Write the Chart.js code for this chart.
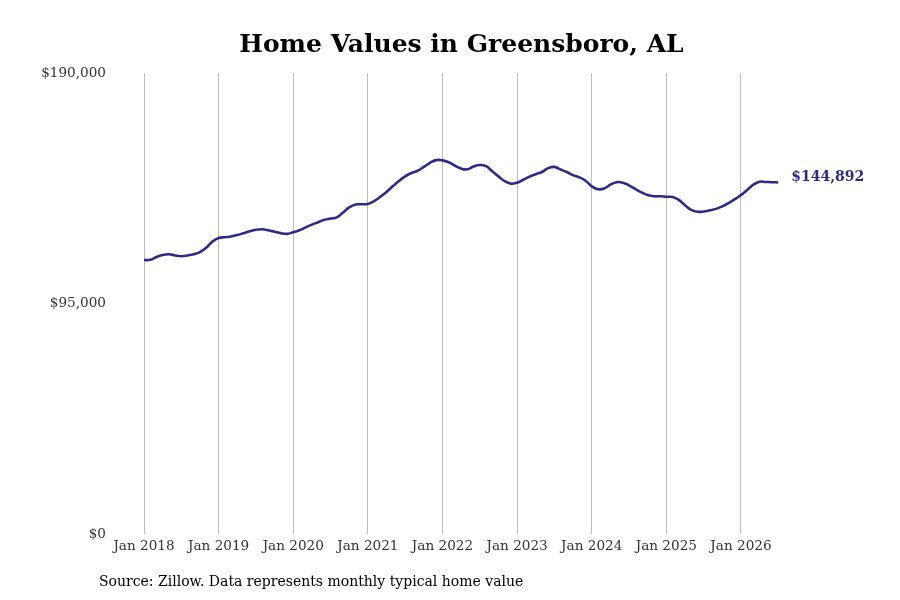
<!DOCTYPE html>
<html>
<head>
<meta charset="utf-8">
<script src="https://cdn.jsdelivr.net/npm/chart.js@4.4.1/dist/chart.umd.min.js"></script>
<style>
  html, body { margin: 0; padding: 0; background: #fff; }
  #wrap { width: 900px; height: 600px; }
</style>
</head>
<body>
<div id="wrap"><canvas id="c" width="900" height="600"></canvas></div>
<script>
// Monthly typical home value, Jan 2018 .. Jul 2026
const homeValues = [
  112900, 113000, 114200, 115000, 115300, 114800, 114500, 114800, 115300, 116200, 118000, 120500,
  122000, 122300, 122600, 123200, 124000, 124800, 125400, 125600, 125200, 124600, 124000, 123700,
  124400, 125200, 126400, 127500, 128500, 129500, 130000, 130500, 132500, 134600, 135800, 135900,
  136000, 137200, 139000, 141000, 143300, 145500, 147400, 148800, 149700, 151300, 153000, 154100,
  154000, 153200, 151800, 150600, 150300, 151500, 152100, 151600, 149500, 147400, 145400, 144400,
  144800, 146000, 147300, 148300, 149200, 150800, 151300, 150200, 149200, 147900, 147000, 145600,
  143300, 142100, 142400, 144000, 145000, 144800, 143700, 142200, 140800, 139700, 139200, 139200,
  139000, 138900, 137700, 135500, 133600, 132800, 132900, 133400, 134000, 135000, 136400, 138000,
  139700, 141800, 144000, 145200, 145100, 145000, 144892
];
const xTickPositions = [0, 12, 24, 36, 48, 60, 72, 84, 96];
const xTickLabels = ['Jan 2018', 'Jan 2019', 'Jan 2020', 'Jan 2021', 'Jan 2022', 'Jan 2023', 'Jan 2024', 'Jan 2025', 'Jan 2026'];
const yTickValues = [0, 95000, 190000];
const yTickLabels = ['$0', '$95,000', '$190,000'];
const titleText = 'Home Values in Greensboro, AL';
const sourceText = 'Source: Zillow. Data represents monthly typical home value';
const endLabel = '$144,892';

const LINE_COLOR = '#2e2b87';
const SERIF = '"DejaVu Serif", serif';

const overlay = {
  id: 'overlay',
  afterDraw(chart) {
    const ctx = chart.ctx;
    const xs = chart.scales.x, ys = chart.scales.y;
    ctx.save();
    // title
    ctx.fillStyle = '#000';
    ctx.font = 'bold 25px ' + SERIF;
    ctx.textAlign = 'center';
    ctx.textBaseline = 'middle';
    ctx.fillText(titleText, 461.5, 45);
    // source
    ctx.font = '14px ' + SERIF;
    ctx.textAlign = 'left';
    ctx.fillText(sourceText, 99, 582);
    // end label
    const last = homeValues.length - 1;
    const px = xs.getPixelForValue(last);
    const py = ys.getPixelForValue(homeValues[last]);
    ctx.fillStyle = LINE_COLOR;
    ctx.font = 'bold 14px ' + SERIF;
    ctx.textAlign = 'left';
    ctx.fillText(endLabel, px + 13, py - 5);
    ctx.restore();
  }
};

new Chart(document.getElementById('c'), {
  type: 'line',
  data: {
    datasets: [{
      data: homeValues.map((v, i) => ({ x: i, y: v })),
      borderColor: LINE_COLOR,
      borderWidth: 2.6,
      pointRadius: 0,
      tension: 0.4,
      fill: false
    }]
  },
  options: {
    responsive: false,
    animation: false,
    devicePixelRatio: 1,
    layout: { padding: { left: 0, right: 30, top: 73, bottom: 0 } },
    plugins: { legend: { display: false }, title: { display: false }, tooltip: { enabled: false } },
    scales: {
      x: {
        type: 'linear',
        min: -5.147,
        max: 116.75,
        afterBuildTicks(scale) { scale.ticks = xTickPositions.map(v => ({ value: v })); },
        afterFit(scale) { scale.height = 66; },
        ticks: {
          callback(v) { const k = xTickPositions.indexOf(v); return k >= 0 ? xTickLabels[k] : ''; },
          font: { family: SERIF, size: 13.6 },
          color: '#333',
          padding: 4,
          maxRotation: 0,
          autoSkip: false
        },
        grid: { display: true, color: '#bdbdbd', lineWidth: 1, drawTicks: false },
        border: { display: false }
      },
      y: {
        min: 0,
        max: 190000,
        afterBuildTicks(scale) { scale.ticks = yTickValues.map(v => ({ value: v })); },
        afterFit(scale) { scale.width = 112; },
        ticks: {
          callback(v) { const k = yTickValues.indexOf(v); return k >= 0 ? yTickLabels[k] : ''; },
          font: { family: SERIF, size: 13.6 },
          color: '#333',
          padding: 6
        },
        grid: { display: false, drawTicks: false },
        border: { display: false }
      }
    }
  },
  plugins: [overlay]
});
</script>
</body>
</html>
